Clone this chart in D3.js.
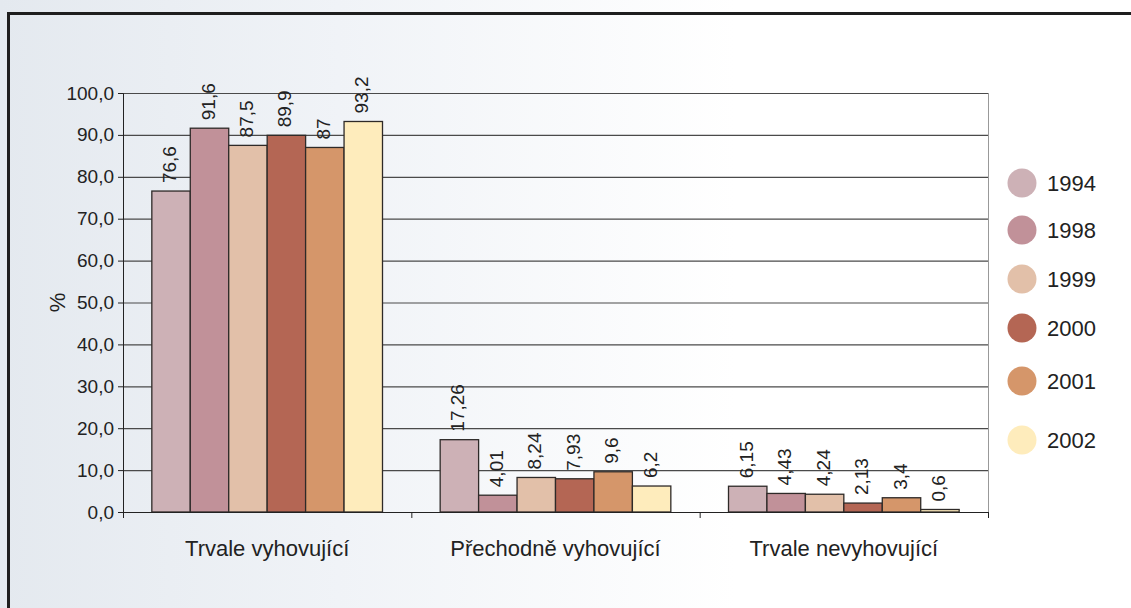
<!DOCTYPE html>
<html>
<head>
<meta charset="utf-8">
<script src="https://cdn.jsdelivr.net/npm/d3@7"></script>
<style>
  body { margin: 0; background: #fff; }
  svg text { font-family: "Liberation Sans", Arial, sans-serif; }
</style>
</head>
<body>
<div id="chart"></div>
<script>
var categories = ["Trvale vyhovující", "Přechodně vyhovující", "Trvale nevyhovující"];
var years = ["1994", "1998", "1999", "2000", "2001", "2002"];
var colors = ["#cdb1b6", "#c19199", "#e2c0a9", "#b46654", "#d5966a", "#feecbc"];
var values = [
    [76.6, 91.6, 87.5, 89.9, 87, 93.2],
    [17.26, 4.01, 8.24, 7.93, 9.6, 6.2],
    [6.15, 4.43, 4.24, 2.13, 3.4, 0.6]
];
var labels = [
    ["76,6", "91,6", "87,5", "89,9", "87", "93,2"],
    ["17,26", "4,01", "8,24", "7,93", "9,6", "6,2"],
    ["6,15", "4,43", "4,24", "2,13", "3,4", "0,6"]
];
var yTicks = [0, 10, 20, 30, 40, 50, 60, 70, 80, 90, 100];

var W = 1131, H = 608;
var margin = {top: 93, right: 143, bottom: 96, left: 123},
    width = W - margin.left - margin.right,
    height = H - margin.top - margin.bottom;

var svg = d3.select("#chart").append("svg")
    .attr("width", W)
    .attr("height", H);

// background
var defs = svg.append("defs");
var grad = defs.append("linearGradient").attr("id", "bg")
    .attr("x1", 0).attr("y1", 0).attr("x2", 1).attr("y2", 0);
grad.append("stop").attr("offset", "0%").attr("stop-color", "#e4e9ef");
grad.append("stop").attr("offset", "30%").attr("stop-color", "#f0f3f7");
grad.append("stop").attr("offset", "65%").attr("stop-color", "#ffffff");
svg.append("rect").attr("width", W).attr("height", H).attr("fill", "url(#bg)");

// frame
svg.append("path")
    .attr("d", "M8.5," + H + " V13.5 H" + W)
    .attr("fill", "none")
    .attr("stroke", "#1e1e1e")
    .attr("stroke-width", 3);

var g = svg.append("g")
    .attr("transform", "translate(" + margin.left + "," + margin.top + ")");

var x0 = d3.scaleBand().domain(categories).range([0, width]);
var x1 = d3.scaleBand().domain(years)
    .range([x0.bandwidth() * 0.1, x0.bandwidth() * 0.9]);
var y = d3.scaleLinear().domain([0, 100]).range([height, 0]);

// gridlines
g.append("g").selectAll("line")
    .data(yTicks.slice(1))
    .enter().append("line")
    .attr("x1", 0).attr("x2", width)
    .attr("y1", function (d) { return y(d) + 0.5; })
    .attr("y2", function (d) { return y(d) + 0.5; })
    .attr("stroke", "#4a4a4a")
    .attr("stroke-width", 1.2);

g.append("line")
    .attr("x1", width + 0.5).attr("x2", width + 0.5)
    .attr("y1", 0).attr("y2", height)
    .attr("stroke", "#999");

// y axis
var yAxis = d3.axisLeft(y)
    .tickValues(yTicks)
    .tickSize(5)
    .tickPadding(4)
    .tickFormat(function (d) { return d3.format(".1f")(d).replace(".", ","); });

var yG = g.append("g").call(yAxis).attr("font-family", null);
yG.select(".domain").attr("stroke", "#222");
yG.selectAll(".tick line").attr("stroke", "#222");
yG.selectAll("text").style("font-size", "19px").attr("fill", "#222");

// bars
var groups = g.selectAll(".group")
    .data(categories)
    .enter().append("g")
    .attr("class", "group")
    .attr("transform", function (d) { return "translate(" + x0(d) + ",0)"; });

groups.selectAll("rect")
    .data(function (d, i) { return values[i].map(function (v, j) { return {v: v, j: j}; }); })
    .enter().append("rect")
    .attr("x", function (d) { return x1(years[d.j]); })
    .attr("width", x1.bandwidth())
    .attr("y", function (d) { return y(d.v); })
    .attr("height", function (d) { return height - y(d.v); })
    .attr("fill", function (d) { return colors[d.j]; })
    .attr("stroke", "#2e2a28")
    .attr("stroke-width", 1.3);

groups.selectAll(".val")
    .data(function (d, i) { return values[i].map(function (v, j) { return {v: v, j: j, t: labels[i][j]}; }); })
    .enter().append("text")
    .attr("class", "val")
    .attr("transform", function (d) {
        return "translate(" + (x1(years[d.j]) + x1.bandwidth() / 2 + 5) + "," + (y(d.v) - 8) + ") rotate(-90)";
    })
    .style("font-size", "19px")
    .attr("fill", "#222")
    .text(function (d) { return d.t; });

// x axis
var xAxis = d3.axisBottom(x0).tickSize(0).tickPadding(28);
var xG = g.append("g")
    .attr("transform", "translate(0," + height + ")")
    .call(xAxis).attr("font-family", null);
xG.select(".domain").attr("stroke", "#222");
xG.selectAll("text").style("font-size", "22px").attr("fill", "#222");

g.append("g").selectAll("line")
    .data([0, 1, 2, 3])
    .enter().append("line")
    .attr("x1", function (d) { return d * x0.step() + 0.5; })
    .attr("x2", function (d) { return d * x0.step() + 0.5; })
    .attr("y1", height)
    .attr("y2", height + 6)
    .attr("stroke", "#222");

// y label
svg.append("text")
    .attr("transform", "translate(65," + (margin.top + height / 2) + ") rotate(-90)")
    .attr("text-anchor", "middle")
    .style("font-size", "22px")
    .attr("fill", "#222")
    .text("%");

// legend
var legendY = [183, 230, 279, 328, 381, 440];
var legend = svg.append("g").selectAll("g")
    .data(years)
    .enter().append("g")
    .attr("transform", function (d, i) { return "translate(1022," + legendY[i] + ")"; });

legend.append("circle")
    .attr("r", 14.5)
    .attr("fill", function (d, i) { return colors[i]; });

legend.append("text")
    .attr("x", 25)
    .attr("dy", "0.36em")
    .style("font-size", "22px")
    .attr("fill", "#222")
    .text(function (d) { return d; });
</script>
</body>
</html>
